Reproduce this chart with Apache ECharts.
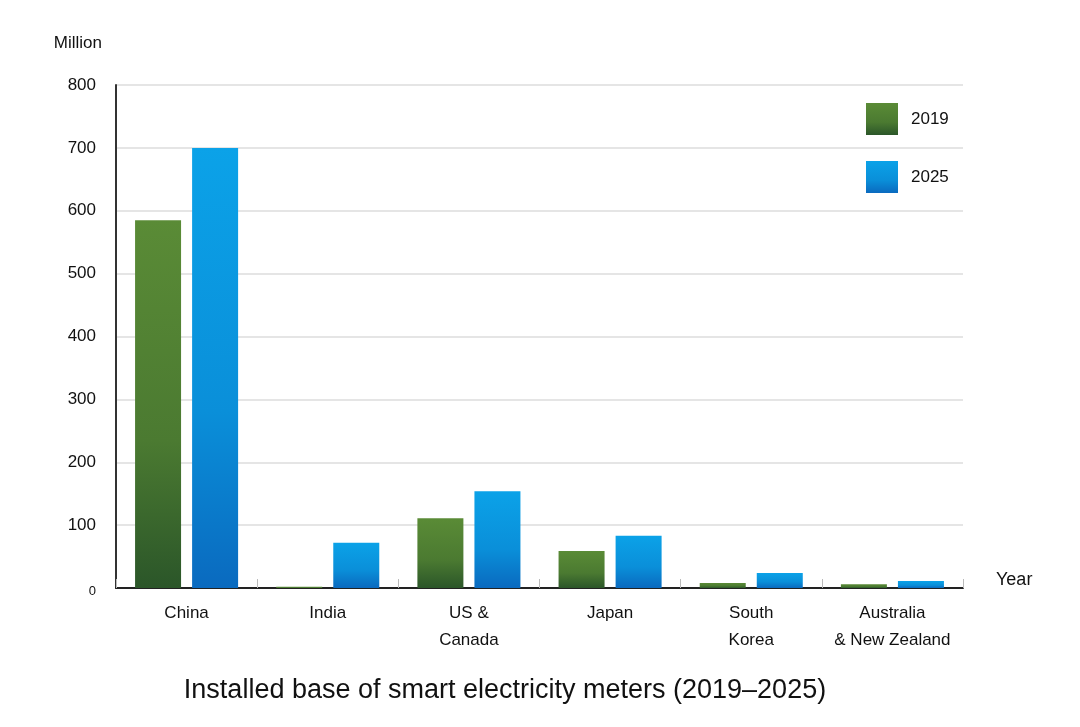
<!DOCTYPE html>
<html>
<head>
<meta charset="utf-8">
<script src="https://cdn.jsdelivr.net/npm/echarts@6/dist/echarts.min.js"></script>
<style>
html,body{margin:0;padding:0;background:#fff;}
#chart{width:1080px;height:727px;}
</style>
</head>
<body>
<div id="chart"></div>
<script>
const categories = ['China', 'India', 'US &\nCanada', 'Japan', 'South\nKorea', 'Australia\n& New Zealand'];
const values2019 = [585, 2, 111, 59, 8, 6];
const values2025 = [700, 72, 154, 83, 24, 11];
const yTicks = [0, 100, 200, 300, 400, 500, 600, 700, 800];
const FONT = '"Liberation Sans", Arial, Helvetica, sans-serif';

const chart = echarts.init(document.getElementById('chart'));
const green = new echarts.graphic.LinearGradient(0, 0, 0, 1, [
  {offset: 0, color: '#5a8b36'}, {offset: 0.6, color: '#4b7a31'}, {offset: 1, color: '#2b5629'}
]);
const blue = new echarts.graphic.LinearGradient(0, 0, 0, 1, [
  {offset: 0, color: '#0ba2e8'}, {offset: 0.6, color: '#0a8fd9'}, {offset: 1, color: '#0a6abf'}
]);
chart.setOption({
  animation: false,
  backgroundColor: '#fff',
  textStyle: {fontFamily: FONT},
  title: {
    text: 'Installed base of smart electricity meters (2019\u20132025)',
    left: 505, top: 677, textAlign: 'center', padding: 0,
    textStyle: {fontFamily: FONT, fontSize: 27, fontWeight: 'normal', color: '#111'}
  },
  legend: {
    orient: 'vertical', left: 866, top: 103, padding: 0,
    itemWidth: 32, itemHeight: 32, itemGap: 26,
    icon: 'rect',
    textStyle: {fontFamily: FONT, fontSize: 17, color: '#111', padding: [2, 0, 0, 8]},
    data: ['2019', '2025']
  },
  grid: {left: 116, right: 117, top: 85, bottom: 139},
  xAxis: {
    type: 'category',
    data: categories,
    name: 'Year',
    nameLocation: 'end',
    nameGap: 33,
    nameTextStyle: {fontFamily: FONT, fontSize: 18, color: '#111', verticalAlign: 'bottom', padding: [0, 0, -1, 0]},
    axisLine: {show: true, lineStyle: {color: '#222', width: 2}},
    axisTick: {show: true, inside: true, length: 9, lineStyle: {color: '#bbb', width: 1}},
    axisLabel: {fontFamily: FONT, fontSize: 17, color: '#111', lineHeight: 27, margin: 12, interval: 0},
    splitLine: {show: false}
  },
  yAxis: {
    type: 'value',
    min: 0, max: 800, interval: 100,
    name: 'Million',
    nameLocation: 'end',
    nameGap: 33,
    nameTextStyle: {fontFamily: FONT, fontSize: 17, color: '#111', align: 'right', padding: [0, 14, 0, 0]},
    axisLine: {show: true, lineStyle: {color: '#333', width: 2}},
    axisTick: {show: false},
    axisLabel: {
      fontFamily: FONT, fontSize: 17, color: '#111', margin: 20,
      formatter: v => (v === 0 ? '{s|0}' : String(v)),
      rich: {s: {fontSize: 13, color: '#111', fontFamily: FONT, padding: [6, 0, 0, 0]}}
    },
    splitLine: {show: true, lineStyle: {color: '#dcdcdc', width: 1.5}}
  },
  series: [
    {name: '2019', type: 'bar', data: values2019, barWidth: 46, barGap: '24%', itemStyle: {color: green}},
    {name: '2025', type: 'bar', data: values2025, barWidth: 46, itemStyle: {color: blue}}
  ]
});
</script>
</body>
</html>
